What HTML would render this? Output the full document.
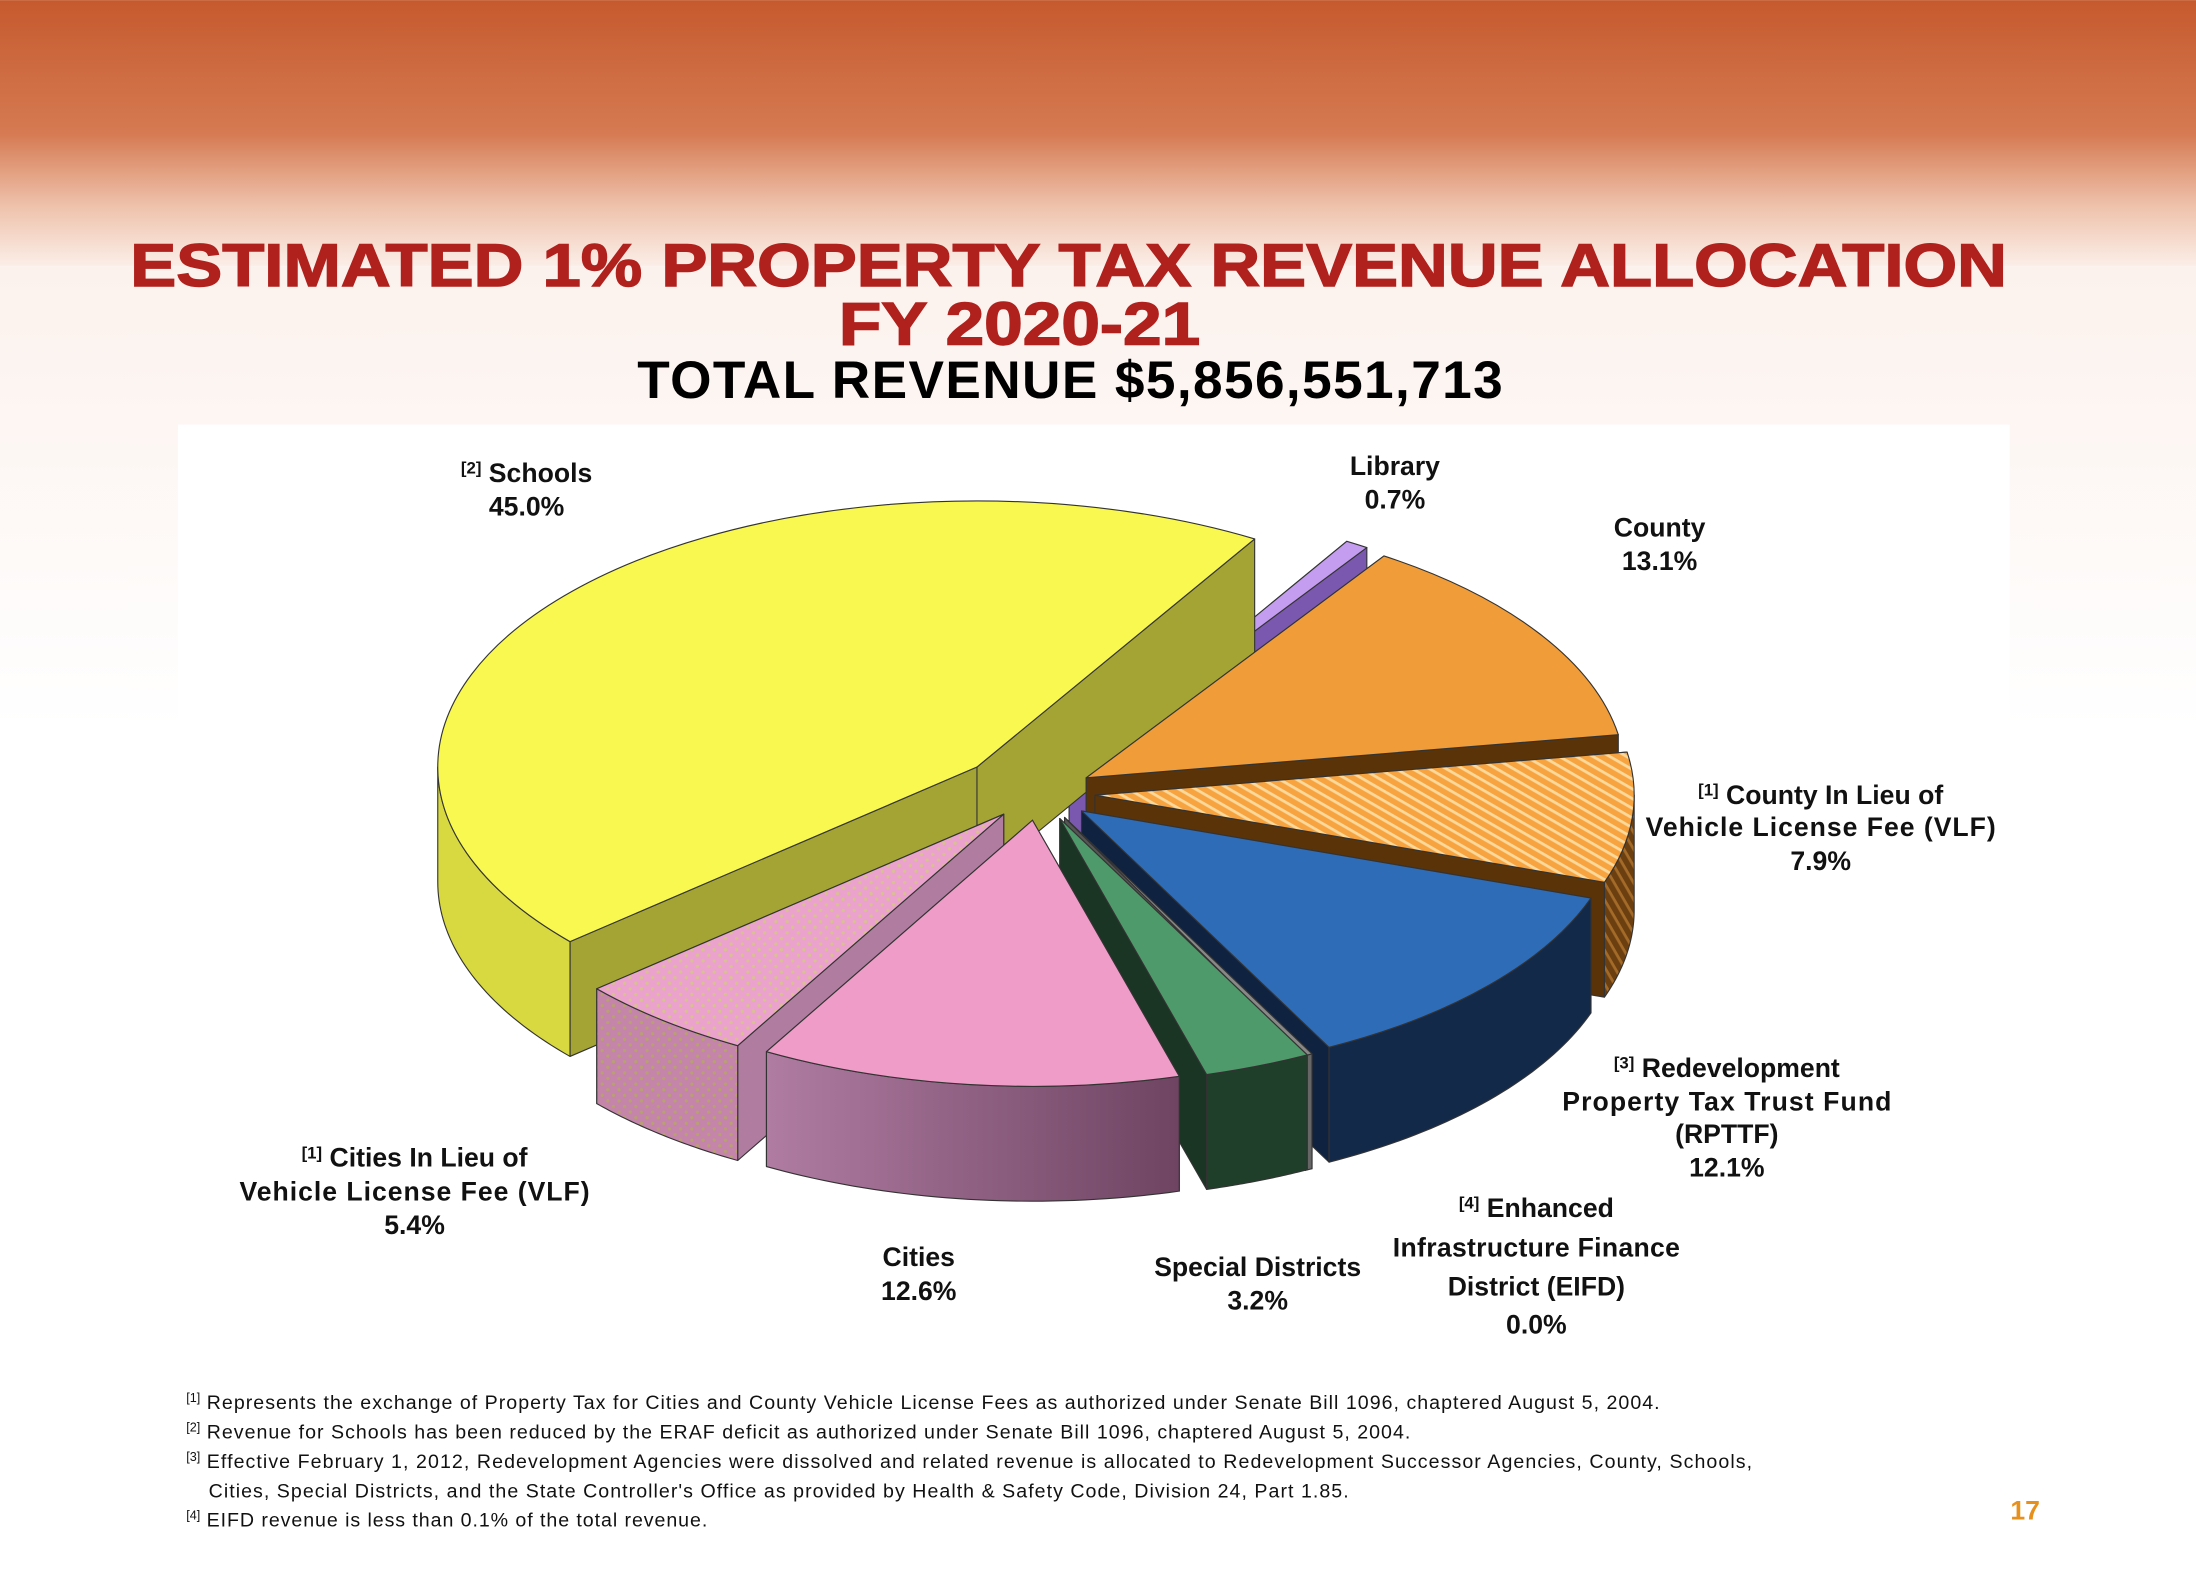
<!DOCTYPE html>
<html><head><meta charset="utf-8"><style>
html,body{margin:0;padding:0;background:#fff;}
svg{display:block;font-family:"Liberation Sans",Arial,sans-serif;}
</style></head><body>
<svg id="page" width="2196" height="1594" viewBox="0 0 1568 1138" xmlns="http://www.w3.org/2000/svg">
<defs>
<linearGradient id="hdr" x1="0" y1="0" x2="0" y2="1">
<stop offset="0" stop-color="#c65a2e"/><stop offset="0.5" stop-color="#d57a52"/><stop offset="0.78" stop-color="#efc3ad"/><stop offset="1" stop-color="#fbeee8"/>
</linearGradient>
<linearGradient id="fade" x1="0" y1="0" x2="0" y2="1">
<stop offset="0" stop-color="#fbeee8"/><stop offset="1" stop-color="#fff"/>
</linearGradient>
<pattern id="hatch" width="6" height="6" patternUnits="userSpaceOnUse" patternTransform="rotate(30)">
<rect width="6" height="6" fill="#f7a440"/><rect width="6" height="2" fill="#fcd89a"/>
</pattern>
<pattern id="hatchD" width="6" height="6" patternUnits="userSpaceOnUse" patternTransform="rotate(60)">
<rect width="6" height="6" fill="#6b3f10"/><rect width="6" height="2" fill="#a36a28"/>
</pattern>
<pattern id="dots" width="8" height="8" patternUnits="userSpaceOnUse">
<rect width="8" height="8" fill="#eba2cc"/><circle cx="2" cy="2" r="1.2" fill="#d8c090"/><circle cx="6" cy="6" r="1.2" fill="#d8c090"/>
</pattern>
<pattern id="dotsD" width="8" height="8" patternUnits="userSpaceOnUse">
<rect width="8" height="8" fill="#c584aa"/><circle cx="2" cy="2" r="1.2" fill="#b8a070"/><circle cx="6" cy="6" r="1.2" fill="#b8a070"/>
</pattern>
<linearGradient id="cityside" x1="0" y1="0" x2="1" y2="0">
<stop offset="0" stop-color="#b07ca2"/><stop offset="1" stop-color="#6e4462"/>
</linearGradient>
</defs>
<rect width="1568" height="1138" fill="#fff"/>
<rect width="1568" height="190" fill="url(#hdr)"/>
<rect x="0" y="190" width="1568" height="330" fill="url(#fade)" opacity="0.8"/>
<rect x="127" y="303" width="1308" height="665" fill="#fff"/>
<text x="763" y="204" text-anchor="middle" font-size="43" font-weight="bold" fill="#b0201c" stroke="#b0201c" stroke-width="1" textLength="1340" lengthAdjust="spacingAndGlyphs">ESTIMATED 1% PROPERTY TAX REVENUE ALLOCATION</text>
<text x="728" y="246" text-anchor="middle" font-size="43" font-weight="bold" fill="#b0201c" stroke="#b0201c" stroke-width="1" textLength="258" lengthAdjust="spacingAndGlyphs">FY 2020-21</text>
<text x="764" y="284" text-anchor="middle" font-size="38" font-weight="bold" fill="#000" textLength="618" lengthAdjust="spacing">TOTAL REVENUE  $5,856,551,713</text>
<g id="pie"></g>
<g font-size="19" font-weight="bold" fill="#111" text-anchor="middle">
<text x="376" y="344"><tspan font-size="12" dy="-6">[2]</tspan><tspan dy="6"> Schools</tspan></text><text x="376" y="368">45.0%</text>
<text x="996" y="339">Library</text><text x="996" y="363">0.7%</text>
<text x="1185" y="383">County</text><text x="1185" y="407">13.1%</text>
<text x="1300" y="574"><tspan font-size="12" dy="-6">[1]</tspan><tspan dy="6"> County In Lieu of</tspan></text><text x="1300" y="597" textLength="250">Vehicle License Fee (VLF)</text><text x="1300" y="621">7.9%</text>
<text x="1233" y="769"><tspan font-size="12" dy="-6">[3]</tspan><tspan dy="6"> Redevelopment</tspan></text><text x="1233" y="793" textLength="235">Property Tax Trust Fund</text><text x="1233" y="816">(RPTTF)</text><text x="1233" y="840">12.1%</text>
<text x="1097" y="869"><tspan font-size="12" dy="-6">[4]</tspan><tspan dy="6"> Enhanced</tspan></text><text x="1097" y="897" textLength="205">Infrastructure Finance</text><text x="1097" y="925">District (EIFD)</text><text x="1097" y="952">0.0%</text>
<text x="898" y="911">Special Districts</text><text x="898" y="935">3.2%</text>
<text x="656" y="904">Cities</text><text x="656" y="928">12.6%</text>
<text x="296" y="833"><tspan font-size="12" dy="-6">[1]</tspan><tspan dy="6"> Cities In Lieu of</tspan></text><text x="296" y="857" textLength="250">Vehicle License Fee (VLF)</text><text x="296" y="881">5.4%</text>
</g>
<g font-size="14" fill="#111">
<text x="133" y="1006"><tspan font-size="9" dy="-5">[1]</tspan><tspan dy="5" textLength="1042"> Represents the exchange of Property Tax for Cities and County Vehicle License Fees as authorized under Senate Bill 1096, chaptered August 5, 2004.</tspan></text>
<text x="133" y="1027"><tspan font-size="9" dy="-5">[2]</tspan><tspan dy="5" textLength="864"> Revenue for Schools has been reduced by the ERAF deficit as authorized under Senate Bill 1096, chaptered August 5, 2004.</tspan></text>
<text x="133" y="1048"><tspan font-size="9" dy="-5">[3]</tspan><tspan dy="5" textLength="1108"> Effective February 1, 2012, Redevelopment Agencies were dissolved and related revenue is allocated to Redevelopment Successor Agencies, County, Schools,</tspan></text>
<text x="149" y="1069" textLength="814">Cities, Special Districts, and the State Controller's Office as provided by Health &amp; Safety Code, Division 24, Part 1.85.</text>
<text x="133" y="1090"><tspan font-size="9" dy="-5">[4]</tspan><tspan dy="5" textLength="362"> EIFD revenue is less than 0.1% of the total revenue.</tspan></text>
</g>
<text x="1446" y="1085" text-anchor="middle" font-size="19" font-weight="bold" fill="#e8901c">17</text>
</svg>
<script>
const categories = ["Library","County","County VLF","RPTTF","EIFD","Special Districts","Cities","Cities VLF","Schools"];
const values = [0.7,13.1,7.9,12.1,0.0,3.2,12.6,5.4,45.0];
const tops = ["#c49cf0","#f09c38","url(#hatch)","#2e6cb8","#888","#4f9a6a","#f09cc8","url(#dots)","#f8f850"];
const sides = ["#8a66c8","#6a4010","url(#hatchD)","#12294a","#666","#1f3f2a","url(#cityside)","url(#dotsD)","#d8d840"];
const radials = ["#7a58b0","#5a3408","#5a3408","#0f2240","#555","#1a3524","#a06890","#b07ca0","#a4a434"];
const explodes = [40,40,40,40,40,40,40,40,58];
const NS="http://www.w3.org/2000/svg";
const g=document.getElementById('pie');
const cx=742,cy=566,rx=385,ry=190,depth=82,start=-59;
const total=values.reduce((a,b)=>a+b,0);
function rad(d){return d*Math.PI/180;}
function pt(c,a,dz){return [c[0]+rx*Math.cos(rad(a)),c[1]+ry*Math.sin(rad(a))+(dz||0)];}
function mk(d,fill,name){const p=document.createElementNS(NS,'path');p.setAttribute('d',d);p.setAttribute('fill',fill);p.setAttribute('stroke','#333');p.setAttribute('stroke-width','0.8');p.setAttribute('stroke-linejoin','round');


return p;}
let acc=start;const slices=[];
values.forEach((v,i)=>{const sweep=Math.max(v/total*360,v===0?0.8:0);const a0=acc,a1=acc+sweep;acc+=v/total*360;const mid=(a0+a1)/2;
const e=explodes[i];
const c=[cx+e*Math.cos(rad(mid)),cy+e*ry/rx*Math.sin(rad(mid))];slices.push({i,a0,a1,mid,c});});
slices.slice().sort((a,b)=>Math.sin(rad(a.mid))-Math.sin(rad(b.mid))).forEach(s=>{
const {i,a0,a1,c}=s;const grp=document.createElementNS(NS,'g');


const walls=[a0,a1].map(a=>({a,y:Math.sin(rad(a))}));
walls.sort((p,q)=>p.y-q.y);
walls.forEach(w=>{const e=pt(c,w.a);grp.appendChild(mk(`M${c[0]},${c[1]}L${e[0]},${e[1]}L${e[0]},${e[1]+depth}L${c[0]},${c[1]+depth}Z`,radials[i],'radial-wall'));});
[[0,180],[360,540],[-360,-180]].forEach(([f0,f1])=>{const b0=Math.max(a0,f0),b1=Math.min(a1,f1);if(b1>b0){
let d='';const n=40;for(let k=0;k<=n;k++){const p=pt(c,b0+(b1-b0)*k/n);d+=(k?'L':'M')+p[0]+','+p[1];}
for(let k=n;k>=0;k--){const p=pt(c,b0+(b1-b0)*k/n,depth);d+='L'+p[0]+','+p[1];}
grp.appendChild(mk(d+'Z',sides[i],'outer-wall'));}});
const p0=pt(c,a0),p1=pt(c,a1);const large=(a1-a0)>180?1:0;
grp.appendChild(mk(`M${c[0]},${c[1]}L${p0[0]},${p0[1]}A${rx},${ry} 0 ${large} 1 ${p1[0]},${p1[1]}Z`,tops[i],'slice-top'));
g.appendChild(grp);});
</script>
</body></html>
